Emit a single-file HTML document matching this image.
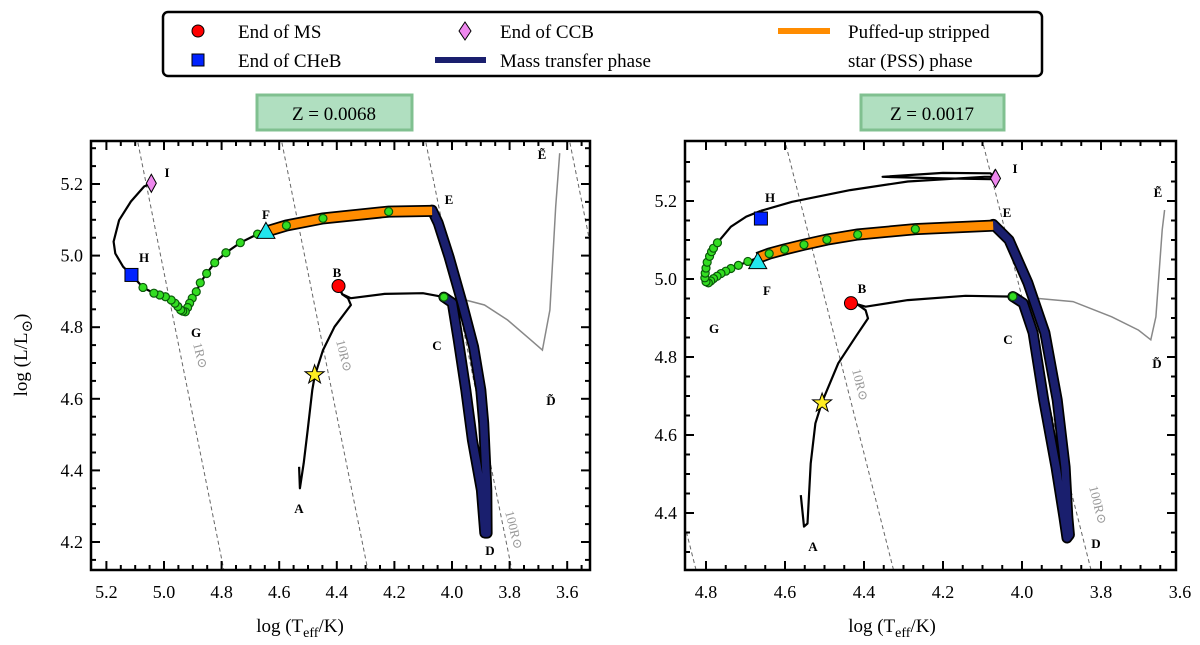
<!DOCTYPE html>
<html><head><meta charset="utf-8"><style>
body{margin:0;background:#fff;}
svg{display:block;font-family:"Liberation Serif","DejaVu Serif",serif;}
</style></head><body>
<svg id="chart" width="1200" height="645" viewBox="0 0 1200 645" xmlns="http://www.w3.org/2000/svg">
<defs>
<clipPath id="clipL"><rect x="91" y="141" width="499" height="429"/></clipPath>
<clipPath id="clipR"><rect x="685" y="141" width="491" height="429"/></clipPath>
</defs>
<g>
<rect x="163" y="12" width="879" height="64" rx="5" fill="#fff" stroke="#000" stroke-width="2.5"/>
<circle cx="198" cy="31" r="6" fill="#f00" stroke="#000" stroke-width="1"/>
<text x="238" y="38" font-size="19">End of MS</text>
<rect x="192" y="54" width="12" height="12" fill="#0022ff" stroke="#000"/>
<text x="238" y="67" font-size="19">End of CHeB</text>
<path d="M465 22 L471 31 L465 40 L459 31Z" fill="#ee88ee" stroke="#000"/>
<text x="500" y="38" font-size="19">End of CCB</text>
<line x1="435" y1="60" x2="486" y2="60" stroke="#1a1f6e" stroke-width="6"/>
<text x="500" y="67" font-size="19">Mass transfer phase</text>
<line x1="778" y1="31" x2="830" y2="31" stroke="#ff8c00" stroke-width="6"/>
<text x="848" y="38" font-size="19">Puffed-up stripped</text>
<text x="848" y="67" font-size="19">star (PSS) phase</text>
</g>
<g><rect x="257" y="95" width="155" height="35" fill="#b0dfc0" stroke="#80c090" stroke-width="3"/><text x="334" y="120" font-size="19" text-anchor="middle">Z = 0.0068</text></g>
<g><rect x="861" y="95" width="143" height="35" fill="#b0dfc0" stroke="#80c090" stroke-width="3"/><text x="932" y="120" font-size="19" text-anchor="middle">Z = 0.0017</text></g>
<text transform="translate(27,355) rotate(-90)" font-size="19" text-anchor="middle">log (L/L<tspan font-size="15" dy="5">⊙</tspan><tspan dy="-5">)</tspan></text>
<text x="300" y="632" font-size="19" text-anchor="middle">log (T<tspan font-size="14" dy="5">eff</tspan><tspan dy="-5">/K)</tspan></text>
<text x="892" y="632" font-size="19" text-anchor="middle">log (T<tspan font-size="14" dy="5">eff</tspan><tspan dy="-5">/K)</tspan></text>
</svg>
<script>
// ---- data: left panel (Z=0.0068) ----
const xTicksL=[5.2,5.0,4.8,4.6,4.4,4.2,4.0,3.8,3.6];
const yTicksL=[4.2,4.4,4.6,4.8,5.0,5.2];
const xTicksR=[4.8,4.6,4.4,4.2,4.0,3.8,3.6];
const yTicksR=[4.4,4.6,4.8,5.0,5.2];
const radii=[1,10,100,1000];
const L_ms_T=[4.531,4.528,4.515,4.501,4.485,4.477,4.448,4.408,4.351,4.361,4.381,4.394];
const L_ms_L=[4.410,4.350,4.420,4.513,4.625,4.662,4.736,4.801,4.862,4.881,4.892,4.913];
const L_hg_T=[4.394,4.381,4.351,4.234,4.101,4.028];
const L_hg_L=[4.913,4.892,4.881,4.893,4.895,4.884];
const L_mt_T=[4.028,3.999,3.978,3.952,3.929,3.898,3.886,3.878,3.879,3.890,3.900,3.925,3.965,4.010,4.048,4.069];
const L_mt_L=[4.884,4.868,4.764,4.625,4.485,4.345,4.225,4.225,4.345,4.532,4.625,4.745,4.868,4.996,5.091,5.127];
const L_pss_T=[4.069,4.220,4.448,4.575,4.646];
const L_pss_L=[5.125,5.123,5.104,5.084,5.067];
const L_fg_T=[4.646,4.675,4.735,4.785,4.824,4.852,4.874,4.888,4.902,4.911,4.926,4.942,4.962,4.995,5.035,5.073,5.113];
const L_fg_L=[5.067,5.060,5.036,5.008,4.980,4.950,4.924,4.899,4.881,4.867,4.843,4.848,4.867,4.885,4.895,4.911,4.946];
const L_hi_T=[5.113,5.142,5.169,5.175,5.156,5.115,5.069,5.044];
const L_hi_L=[4.946,4.969,5.006,5.039,5.099,5.151,5.193,5.202];
const L_grey_T=[3.953,3.887,3.807,3.726,3.686,3.660,3.640,3.626];
const L_grey_L=[4.876,4.862,4.820,4.764,4.736,4.848,5.137,5.286];
const L_dot_T=[4.028,4.575,4.448,4.220,4.675,4.735,4.785,4.824,4.852,4.874,4.888,4.902,4.911,4.918,4.926,4.935,4.942,4.952,4.962,4.975,4.995,5.015,5.035,5.073];
const L_dot_L=[4.884,5.084,5.104,5.123,5.060,5.036,5.008,4.980,4.950,4.924,4.899,4.881,4.867,4.855,4.843,4.845,4.848,4.858,4.867,4.876,4.885,4.890,4.895,4.911];
const L_mark=[["ms",4.394,4.915],["cheb",5.113,4.946],["ccb",5.044,5.202],["tri",4.646,5.065],["star",4.477,4.667]];
// ---- data: right panel (Z=0.0017) ----
const R_ms_T=[4.560,4.552,4.543,4.535,4.523,4.506,4.465,4.421,4.390,4.396,4.421,4.433];
const R_ms_L=[4.446,4.365,4.373,4.527,4.630,4.685,4.784,4.852,4.899,4.920,4.938,4.950];
const R_hg_T=[4.433,4.396,4.289,4.143,4.023];
const R_hg_L=[4.940,4.929,4.946,4.957,4.955];
const R_mt_T=[4.023,3.997,3.972,3.945,3.914,3.894,3.886,3.880,3.884,3.891,3.911,3.942,3.985,4.033,4.073];
const R_mt_L=[4.955,4.938,4.862,4.690,4.518,4.390,4.336,4.344,4.390,4.518,4.690,4.862,4.990,5.100,5.140];
const R_pss_T=[4.073,4.270,4.416,4.494,4.552,4.601,4.640,4.669];
const R_pss_L=[5.137,5.128,5.114,5.101,5.088,5.076,5.065,5.054];
const R_fg_T=[4.669,4.694,4.718,4.737,4.762,4.781,4.794,4.803,4.800,4.791,4.781,4.771,4.737,4.698,4.661];
const R_fg_L=[5.054,5.045,5.035,5.027,5.014,5.001,4.990,5.003,5.028,5.058,5.079,5.093,5.134,5.160,5.175];
const R_hi_T=[4.661,4.582,4.435,4.289,4.095,4.070,4.080,4.200,4.353,4.200,4.080,4.067];
const R_hi_L=[5.175,5.198,5.228,5.250,5.262,5.262,5.271,5.272,5.262,5.258,5.256,5.280];
const R_grey_T=[3.958,3.871,3.773,3.705,3.674,3.661,3.645,3.639];
const R_grey_L=[4.950,4.942,4.903,4.869,4.844,4.903,5.126,5.177];
const R_dot_T=[4.023,4.270,4.416,4.494,4.552,4.601,4.640,4.694,4.718,4.737,4.750,4.762,4.772,4.781,4.788,4.794,4.800,4.803,4.802,4.800,4.797,4.791,4.786,4.781,4.771];
const R_dot_L=[4.955,5.128,5.114,5.101,5.088,5.076,5.065,5.045,5.035,5.027,5.020,5.014,5.007,5.001,4.995,4.990,4.993,5.003,5.015,5.028,5.043,5.058,5.070,5.079,5.093];
const R_mark=[["ms",4.433,4.938],["cheb",4.661,5.155],["ccb",4.067,5.258],["tri",4.669,5.042],["star",4.506,4.682]];

const NS="http://www.w3.org/2000/svg";
const svg=document.getElementById('chart');
function mk(tag,attrs,parent){const e=document.createElementNS(NS,tag);for(const k in attrs)e.setAttribute(k,attrs[k]);(parent||svg).appendChild(e);return e;}
const PL={x:v=>164+(5.0-v)*288,y:v=>184+(5.2-v)*358,x0:91,x1:590,y0:141,y1:570,clip:'clipL',tmin:3.52,tmax:5.26,lmin:4.12,lmax:5.32};
const PR={x:v=>706+(4.8-v)*395,y:v=>201+(5.2-v)*390,x0:685,x1:1176,y0:141,y1:570,clip:'clipR',tmin:3.6,tmax:4.86,lmin:4.25,lmax:5.36};
function pathD(P,T,L){return T.map((t,i)=>(i?'L':'M')+P.x(t).toFixed(1)+' '+P.y(L[i]).toFixed(1)).join(' ');}
function drawPanel(P,key,xt,yt,d){
  const g=mk('g',{});
  
  
  const cg=mk('g',{'clip-path':'url(#'+P.clip+')'},g);
  radii.forEach(r=>{
    const la=P.lmin-0.1,lb=P.lmax+0.1;
    const ta=(la-2*Math.log10(r)+15.047)/4,tb=(lb-2*Math.log10(r)+15.047)/4;
    const ln=mk('line',{x1:P.x(ta),y1:P.y(la),x2:P.x(tb),y2:P.y(lb),stroke:'#666','stroke-width':1,'stroke-dasharray':'4 3'},cg);
    
    
  });
  const gr=mk('path',{d:pathD(P,d.grey[0],d.grey[1]),fill:'none',stroke:'#888','stroke-width':1.5},cg);
  
  
  [['ms',d.ms],['hg',d.hg],['hi',d.hi]].forEach(([n,a])=>{
    const p=mk('path',{d:pathD(P,a[0],a[1]),fill:'none',stroke:'#000','stroke-width':2.2,'stroke-linejoin':'round'},cg);
    
    
  });
  const fgp=mk('path',{d:pathD(P,d.fg[0],d.fg[1]),fill:'none',stroke:'#000','stroke-width':2.2},cg);
  
  
  const mtb=mk('path',{d:pathD(P,d.mt[0],d.mt[1]),fill:'none',stroke:'#000','stroke-width':11,'stroke-linejoin':'round','stroke-linecap':'round'},cg);
  
  
  const mt=mk('path',{d:pathD(P,d.mt[0],d.mt[1]),fill:'none',stroke:'#1a1f6e','stroke-width':7.5,'stroke-linejoin':'round','stroke-linecap':'round'},cg);
  
  
  const pb=mk('path',{d:pathD(P,d.pss[0],d.pss[1]),fill:'none',stroke:'#000','stroke-width':12},cg);
  
  
  const ps=mk('path',{d:pathD(P,d.pss[0],d.pss[1]),fill:'none',stroke:'#ff8c00','stroke-width':8.5},cg);
  
  
  d.dots[0].forEach((t,i)=>{
    const c=mk('circle',{cx:P.x(t),cy:P.y(d.dots[1][i]),r:4,fill:'#33dd22',stroke:'#0a5a0a','stroke-width':1.2},cg);
    
    
  });
  d.marks.forEach(m=>{
    const cx=P.x(m[1]),cy=P.y(m[2]);let e;
    if(m[0]=='ms')e=mk('circle',{cx,cy,r:6.5,fill:'#f00',stroke:'#000'},cg);
    else if(m[0]=='cheb')e=mk('rect',{x:cx-6.5,y:cy-6.5,width:13,height:13,fill:'#0022ff',stroke:'#000'},cg);
    else if(m[0]=='ccb')e=mk('path',{d:`M${cx} ${cy-9}L${cx+5} ${cy}L${cx} ${cy+9}L${cx-5} ${cy}Z`,fill:'#ee88ee',stroke:'#000'},cg);
    else if(m[0]=='tri')e=mk('path',{d:`M${cx} ${cy-10}L${cx+9} ${cy+6}L${cx-9} ${cy+6}Z`,fill:'#22e6ee',stroke:'#000'},cg);
    else{let s='';for(let k=0;k<10;k++){const a=-Math.PI/2+k*Math.PI/5,rr=k%2?4:10;s+=(k?'L':'M')+(cx+rr*Math.cos(a)).toFixed(1)+' '+(cy+rr*Math.sin(a)).toFixed(1);}e=mk('path',{d:s+'Z',fill:'#ffee22',stroke:'#000'},cg);}
    
    
  });
  const fr=mk('rect',{x:P.x0,y:P.y0,width:P.x1-P.x0,height:P.y1-P.y0,fill:'none',stroke:'#000','stroke-width':2.5},g);
  
  
  for(let v=Math.ceil(P.tmin/0.05)*0.05;v<=P.tmax+1e-9;v+=0.05){
    const xx=P.x(v);if(xx<P.x0+2||xx>P.x1-2)continue;
    const maj=Math.abs(v*5-Math.round(v*5))<1e-6,len=maj?9:5;
    mk('line',{x1:xx,y1:P.y1,x2:xx,y2:P.y1-len,stroke:'#000','stroke-width':2},g);
    mk('line',{x1:xx,y1:P.y0,x2:xx,y2:P.y0+len,stroke:'#000','stroke-width':2},g);
  }
  for(let v=Math.ceil(P.lmin/0.05)*0.05;v<=P.lmax+1e-9;v+=0.05){
    const yy=P.y(v);if(yy<P.y0+2||yy>P.y1-2)continue;
    const maj=Math.abs(v*5-Math.round(v*5))<1e-6,len=maj?9:5;
    mk('line',{x1:P.x0,y1:yy,x2:P.x0+len,y2:yy,stroke:'#000','stroke-width':2},g);
    mk('line',{x1:P.x1,y1:yy,x2:P.x1-len,y2:yy,stroke:'#000','stroke-width':2},g);
  }
  xt.forEach(v=>{const t=mk('text',{x:P.x(v),y:598,'font-size':18,'text-anchor':'middle'},g);t.textContent=v.toFixed(1);
    
    });
  yt.forEach(v=>{const t=mk('text',{x:P.x0-8,y:P.y(v)+6,'font-size':18,'text-anchor':'end'},g);t.textContent=v.toFixed(1);
    
    });
  d.labels.forEach(l=>{const t=mk('text',{x:l[1],y:l[2],'font-size':13,'font-weight':'bold','text-anchor':'middle'},g);t.textContent=l[0];
    
    });
  d.rl.forEach(l=>{const t=mk('text',{x:0,y:0,'font-size':13,fill:'#999',transform:`translate(${l[1]},${l[2]}) rotate(76)`},g);t.textContent=l[0];
    
    });
}
drawPanel(PL,'left',xTicksL,yTicksL,{grey:[L_grey_T,L_grey_L],ms:[L_ms_T,L_ms_L],hg:[L_hg_T,L_hg_L],hi:[L_hi_T,L_hi_L],fg:[L_fg_T,L_fg_L],mt:[L_mt_T,L_mt_L],pss:[L_pss_T,L_pss_L],dots:[L_dot_T,L_dot_L],marks:L_mark,
 labels:[['I',167,177],['E',449,204],['F',266,219],['H',144,262],['B',337,277],['G',196,337],['C',437,350],['Ẽ',542,159],['D̃',551,405],['A',299,513],['D',490,555]],
 rl:[['1R⊙',193,344],['10R⊙',336,341],['100R⊙',505,512]]});
drawPanel(PR,'right',xTicksR,yTicksR,{grey:[R_grey_T,R_grey_L],ms:[R_ms_T,R_ms_L],hg:[R_hg_T,R_hg_L],hi:[R_hi_T,R_hi_L],fg:[R_fg_T,R_fg_L],mt:[R_mt_T,R_mt_L],pss:[R_pss_T,R_pss_L],dots:[R_dot_T,R_dot_L],marks:R_mark,
 labels:[['I',1015,173],['H',770,202],['E',1007,217],['F',767,295],['B',862,293],['G',714,333],['C',1008,344],['Ẽ',1158,197],['D̃',1157,368],['A',813,551],['D',1096,548]],
 rl:[['10R⊙',852,370],['100R⊙',1089,487]]});
</script>
</body></html>
